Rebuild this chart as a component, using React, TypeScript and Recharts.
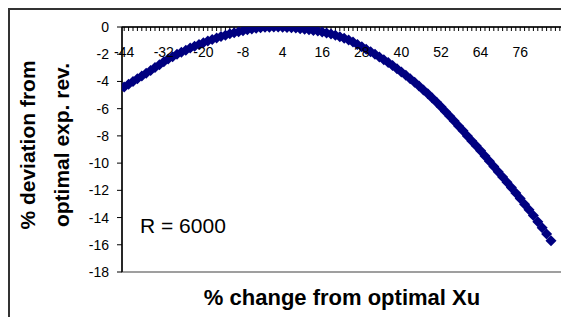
import React from "react";
import {
  ScatterChart,
  Scatter,
  XAxis,
  YAxis,
  ReferenceArea,
} from "recharts";

// category values on the x axis (% change), 100 categories
const xCategories = [
  -44, -42.67, -41.33, -40, -38.67, -37.33, -36, -34.67, -33.33, -32,
  -30.67, -29.33, -28, -26.67, -25.33, -24, -22.67, -21.33, -20, -18.67,
  -17.33, -16, -14.67, -13.33, -12, -10.67, -9.33, -8, -6.67, -5.33,
  -4, -2.67, -1.33, 0, 1.33, 2.67, 4, 5.33, 6.67, 8,
  9.33, 10.67, 12, 13.33, 14.67, 16, 17.33, 18.67, 20, 21.33,
  22.67, 24, 25.33, 26.67, 28, 29.33, 30.67, 32, 33.33, 34.67,
  36, 37.33, 38.67, 40, 41.33, 42.67, 44, 45.33, 46.67, 48,
  49.33, 50.67, 52, 53.33, 54.67, 56, 57.33, 58.67, 60, 61.33,
  62.67, 64, 65.33, 66.67, 68, 69.33, 70.67, 72, 73.33, 74.67,
  76, 77.33, 78.67, 80, 81.33, 82.67, 84, 85.33, 86.67, 88,
];

// % deviation from optimal expected revenue
const deviation = [
  -4.4, -4.2, -4.0, -3.8, -3.6, -3.4, -3.2, -2.98, -2.77, -2.55,
  -2.36, -2.18, -2.0, -1.85, -1.7, -1.55, -1.42, -1.28, -1.15, -1.03,
  -0.92, -0.8, -0.7, -0.6, -0.5, -0.42, -0.35, -0.28, -0.21, -0.15,
  -0.1, -0.05, -0.02, -0.01, 0, 0, -0.01, -0.03, -0.05, -0.08,
  -0.12, -0.16, -0.2, -0.25, -0.3, -0.36, -0.44, -0.52, -0.6, -0.71,
  -0.83, -0.95, -1.11, -1.28, -1.45, -1.63, -1.82, -2.0, -2.2, -2.4,
  -2.6, -2.83, -3.07, -3.3, -3.55, -3.8, -4.05, -4.33, -4.62, -4.9,
  -5.22, -5.53, -5.85, -6.2, -6.55, -6.9, -7.27, -7.63, -8.0, -8.37,
  -8.73, -9.1, -9.48, -9.87, -10.25, -10.63, -11.02, -11.4, -11.8, -12.2,
  -12.6, -13.02, -13.43, -13.85, -14.3, -14.75, -15.2, -15.7,
];

const xLabels = [-44, -32, -20, -8, 4, 16, 28, 40, 52, 64, 76];
const yTicks = [-18, -16, -14, -12, -10, -8, -6, -4, -2, 0];

const points = deviation.map((y, i) => ({ x: xCategories[i], y }));

const Diamond = (props: any) => {
  const { cx, cy } = props;
  const r = 5.5;
  return (
    <polygon
      points={`${cx},${cy - r} ${cx + r},${cy} ${cx},${cy + r} ${cx - r},${cy}`}
      fill="#000080"
    />
  );
};

const titleStyle: React.CSSProperties = {
  position: "absolute",
  whiteSpace: "nowrap",
  fontWeight: "bold",
  fontSize: 21,
};

export default function App() {
  return (
    <div
      style={{
        position: "relative",
        width: 561,
        height: 309,
        overflow: "hidden",
        fontFamily: '"Liberation Sans", Arial, sans-serif',
        color: "#000",
      }}
    >
      <div
        style={{
          position: "absolute",
          left: 0,
          top: 0,
          width: 640,
          height: 400,
          borderLeft: "2px solid #333",
          borderTop: "2px solid #333",
        }}
      />
      <ScatterChart
        width={561}
        height={309}
        margin={{ top: 19, right: 7, bottom: 45, left: 0 }}
      >
        <ReferenceArea
          x1={-44.667}
          x2={88.667}
          y1={-18}
          y2={0}
          fill="none"
          stroke="#808080"
          strokeWidth={1.5}
        />
        <XAxis
          type="number"
          dataKey="x"
          domain={[-44.667, 88.667]}
          orientation="top"
          mirror
          ticks={xCategories}
          interval={0}
          tickFormatter={(v: number) => (xLabels.includes(v) ? String(v) : "")}
          tickSize={4}
          tickMargin={16}
          axisLine={{ stroke: "#000", strokeWidth: 1.5 }}
          tickLine={{ stroke: "#000" }}
          tick={{ fontSize: 14, fill: "#000" }}
          allowDataOverflow
        />
        <YAxis
          type="number"
          dataKey="y"
          domain={[-18, 0]}
          ticks={yTicks}
          interval={0}
          width={114}
          tickSize={5}
          tickMargin={8}
          axisLine={{ stroke: "#000", strokeWidth: 1.5 }}
          tickLine={{ stroke: "#000" }}
          tick={{ fontSize: 14, fill: "#000" }}
          allowDataOverflow
        />
        <Scatter data={points} shape={Diamond} isAnimationActive={false} />
      </ScatterChart>

      {/* y axis title, two lines */}
      <div
        style={{
          ...titleStyle,
          left: 20,
          top: 137,
          transform: "translate(-50%, -50%) rotate(-90deg)",
        }}
      >
        % deviation from
      </div>
      <div
        style={{
          ...titleStyle,
          left: 54,
          top: 137,
          transform: "translate(-50%, -50%) rotate(-90deg)",
        }}
      >
        optimal exp. rev.
      </div>

      {/* x axis title */}
      <div
        style={{
          ...titleStyle,
          fontSize: 22,
          left: 334,
          top: 290,
          transform: "translate(-50%, -50%)",
        }}
      >
        % change from optimal Xu
      </div>

      <div
        style={{
          position: "absolute",
          left: 132,
          top: 218,
          transform: "translateY(-50%)",
          whiteSpace: "nowrap",
          fontSize: 21,
        }}
      >
        R = 6000
      </div>
    </div>
  );
}
